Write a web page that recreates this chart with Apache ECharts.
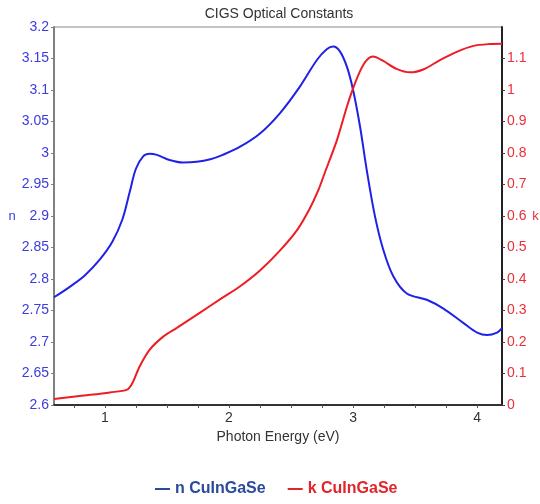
<!DOCTYPE html>
<html>
<head>
<meta charset="utf-8">
<script src="https://cdn.jsdelivr.net/npm/echarts@6/dist/echarts.min.js"></script>
<style>
  html, body { margin: 0; padding: 0; background: #fff; }
  #chart { width: 540px; height: 504px; }
</style>
</head>
<body>
<div id="chart"></div>
<script>
// Photon energy (eV) and refractive index n
const nEnergy = [0.59, 0.72, 0.84, 0.96, 1.06, 1.14, 1.2, 1.25, 1.31, 1.36, 1.42, 1.52, 1.63, 1.74, 1.85, 1.95, 2.09, 2.25, 2.41, 2.57, 2.71, 2.79, 2.84, 2.895, 2.95, 3.0, 3.056, 3.11, 3.177, 3.244, 3.325, 3.433, 3.594, 3.728, 3.89, 4.0, 4.08, 4.16, 4.2];
const nValues = [2.771, 2.788, 2.806, 2.831, 2.859, 2.894, 2.938, 2.975, 2.995, 2.999, 2.997, 2.989, 2.985, 2.986, 2.990, 2.997, 3.010, 3.031, 3.063, 3.105, 3.148, 3.165, 3.169, 3.161, 3.137, 3.100, 3.042, 2.973, 2.899, 2.846, 2.804, 2.777, 2.767, 2.753, 2.730, 2.715, 2.711, 2.715, 2.722];

// Photon energy (eV) and extinction coefficient k
const kEnergy = [0.59, 0.83, 1.04, 1.18, 1.22, 1.28, 1.36, 1.47, 1.58, 1.77, 1.93, 2.09, 2.25, 2.41, 2.55, 2.65, 2.72, 2.77, 2.87, 2.95, 3.0, 3.06, 3.11, 3.16, 3.24, 3.35, 3.46, 3.57, 3.70, 3.84, 3.97, 4.1, 4.2];
const kValues = [0.019, 0.030, 0.040, 0.049, 0.068, 0.122, 0.175, 0.217, 0.245, 0.294, 0.336, 0.377, 0.427, 0.490, 0.556, 0.623, 0.682, 0.735, 0.841, 0.947, 1.005, 1.063, 1.095, 1.106, 1.093, 1.067, 1.056, 1.066, 1.095, 1.122, 1.140, 1.146, 1.147];

const energyLabels = [1, 2, 3, 4];
const energyTicks = [0.75, 1, 1.25, 1.5, 1.75, 2, 2.25, 2.5, 2.75, 3, 3.25, 3.5, 3.75, 4];

const seriesNames = ['n CuInGaSe', 'k CuInGaSe'];
const nColor = '#1f22e6';
const kColor = '#ee1c24';
const fontFamily = '"Liberation Sans", Arial, sans-serif';

const zip = (xs, ys) => xs.map((x, i) => [x, ys[i]]);

const chart = echarts.init(document.getElementById('chart'), null, { renderer: 'canvas' });
chart.setOption({
  animation: false,
  backgroundColor: '#fff',
  textStyle: { fontFamily },
  title: {
    text: 'CIGS Optical Constants',
    left: 274,
    top: 2,
    textAlign: 'center',
    textStyle: { fontSize: 14, fontWeight: 'normal', color: '#333', fontFamily }
  },
  grid: {
    left: 54, right: 38, top: 27, bottom: 99,
    show: true, borderColor: '#8a8a8a', borderWidth: 1,
    containLabel: false,
    outerBoundsMode: 'none'
  },
  legend: {
    bottom: 2,
    left: 150,
    icon: 'rect',
    itemWidth: 15,
    itemHeight: 2,
    itemGap: 22,
    data: [
      { name: seriesNames[0], itemStyle: { color: '#2b4a9c' }, textStyle: { color: '#2b4a9c' } },
      { name: seriesNames[1], itemStyle: { color: '#e0252b' }, textStyle: { color: '#e0252b' } }
    ],
    textStyle: { fontSize: 16, fontWeight: 'bold', fontFamily }
  },
  xAxis: {
    type: 'value',
    min: 0.59,
    max: 4.2,
    name: 'Photon Energy (eV)',
    nameLocation: 'middle',
    nameGap: 24,
    nameTextStyle: { fontSize: 14, color: '#333' },
    axisLine: { show: true, lineStyle: { color: '#333', width: 2 } },
    axisTick: { show: true, length: 3, lineStyle: { color: '#555' }, customValues: energyTicks },
    axisLabel: { color: '#333', fontSize: 14, margin: 6, customValues: energyLabels },
    splitLine: { show: false }
  },
  yAxis: [
    {
      type: 'value',
      min: 2.6,
      max: 3.2,
      interval: 0.05,
      position: 'left',
      name: 'n',
      nameLocation: 'middle',
      nameRotate: 0,
      nameGap: 38,
      nameTextStyle: { fontSize: 13, color: '#3c3ce0' },
      axisLine: { show: true, lineStyle: { color: '#808080', width: 2 } },
      axisTick: { show: true, length: 3, lineStyle: { color: '#808080' } },
      axisLabel: { color: '#3c3ce0', fontSize: 14, margin: 5 },
      splitLine: { show: false }
    },
    {
      type: 'value',
      min: 0,
      max: 1.2,
      interval: 0.1,
      position: 'right',
      name: 'k',
      nameLocation: 'middle',
      nameRotate: 0,
      nameGap: 30,
      nameTextStyle: { fontSize: 13, color: '#e8303a' },
      axisLine: { show: true, lineStyle: { color: '#222', width: 2 } },
      axisTick: { show: true, length: 3, lineStyle: { color: '#444' } },
      axisLabel: { color: '#e8303a', fontSize: 14, margin: 5, showMaxLabel: false },
      splitLine: { show: false }
    }
  ],
  series: [
    {
      name: seriesNames[0],
      type: 'line',
      yAxisIndex: 0,
      data: zip(nEnergy, nValues),
      smooth: 0.35,
      showSymbol: false,
      lineStyle: { color: nColor, width: 2 },
      itemStyle: { color: nColor }
    },
    {
      name: seriesNames[1],
      type: 'line',
      yAxisIndex: 1,
      data: zip(kEnergy, kValues),
      smooth: 0.3,
      showSymbol: false,
      lineStyle: { color: kColor, width: 2 },
      itemStyle: { color: kColor }
    }
  ]
});
</script>
</body>
</html>
